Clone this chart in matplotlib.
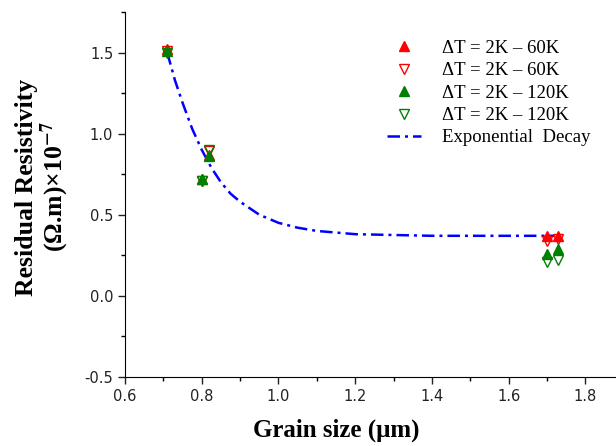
import matplotlib.pyplot as plt
from matplotlib.ticker import MultipleLocator

plt.rcParams['mathtext.fontset'] = 'stix'

# grain size (um) and residual resistivity (x1e-7 Ohm.m)
grain_red_up = [0.71, 0.82, 0.80, 1.70, 1.73]
rho_red_up = [1.52, 0.87, 0.72, 0.37, 0.37]
grain_red_dn = [0.71, 0.82, 0.80, 1.70, 1.73]
rho_red_dn = [1.51, 0.89, 0.71, 0.34, 0.35]
grain_grn_up = [0.71, 0.82, 0.80, 1.70, 1.73]
rho_grn_up = [1.51, 0.86, 0.72, 0.26, 0.29]
grain_grn_dn = [0.71, 0.82, 0.80, 1.70, 1.73]
rho_grn_dn = [1.50, 0.90, 0.71, 0.21, 0.22]

# exponential decay fit curve
fit_x = [0.71, 0.73, 0.75, 0.775, 0.80, 0.825, 0.85, 0.875, 0.90, 0.95,
         1.00, 1.05, 1.10, 1.20, 1.30, 1.40, 1.50, 1.60, 1.72]
fit_y = [1.50, 1.33, 1.19, 1.03, 0.90, 0.79, 0.70, 0.63, 0.58, 0.50,
         0.45, 0.42, 0.40, 0.38, 0.375, 0.37, 0.37, 0.37, 0.37]

legend_labels = ['ΔT = 2K – 60K', 'ΔT = 2K – 60K', 'ΔT = 2K – 120K',
                 'ΔT = 2K – 120K', 'Exponential  Decay']

fig = plt.figure(figsize=(6.16, 4.46), dpi=100)
ax = fig.add_axes([0.203, 0.155, 0.797, 0.818])

ms = 7
hl, = ax.plot(fit_x, fit_y, color='blue', lw=1.8, dashes=(5, 2, 1.2, 2), zorder=1)
h1, = ax.plot(grain_red_up, rho_red_up, '^', color='red', ms=ms, ls='none', zorder=3)
h2, = ax.plot(grain_red_dn, rho_red_dn, 'v', mec='red', mfc='none', ms=ms, ls='none', zorder=3)
h3, = ax.plot(grain_grn_up, rho_grn_up, '^', color='green', ms=ms, ls='none', zorder=3)
h4, = ax.plot(grain_grn_dn, rho_grn_dn, 'v', mec='green', mfc='none', ms=ms, ls='none', zorder=3)

ax.legend([h1, h2, h3, h4, hl], legend_labels, loc='upper left',
          bbox_to_anchor=(0.50, 0.97), frameon=False, handlelength=1.8,
          handletextpad=1.1, labelspacing=0.28,
          prop={'family': 'Liberation Serif', 'size': 13.5})

ax.set_xlim(0.6, 1.88)
ax.set_ylim(-0.5, 1.75)
ax.xaxis.set_minor_locator(MultipleLocator(0.1))
ax.yaxis.set_minor_locator(MultipleLocator(0.25))
ax.set_xticks([0.6, 0.8, 1.0, 1.2, 1.4, 1.6, 1.8])
ax.set_xticklabels(['0.6', '0.8', '1.0', '1.2', '1.4', '1.6', '1.8'])
ax.set_yticks([-0.5, 0.0, 0.5, 1.0, 1.5])
ax.set_yticklabels(['-0.5', '0.0', '0.5', '1.0', '1.5'])
ax.tick_params(which='major', direction='out', length=5, width=1,
               labelsize=10.5, colors='#222222')
ax.tick_params(which='minor', direction='out', length=3, width=1)
ax.spines['top'].set_visible(False)
ax.spines['right'].set_visible(False)

ax.set_xlabel('Grain size (μm)', fontfamily='Liberation Serif',
              fontweight='bold', fontsize=18)
ax.xaxis.set_label_coords(0.43, -0.115)
ax.set_ylabel('Residual Resistivity\n(Ω.m)×10$^{\\mathbf{-7}}$', fontfamily='Liberation Serif',
              fontweight='bold', fontsize=18.5, linespacing=1.0)
ax.yaxis.set_label_coords(-0.11, 0.52)

fig.savefig('out.png', dpi=100)
